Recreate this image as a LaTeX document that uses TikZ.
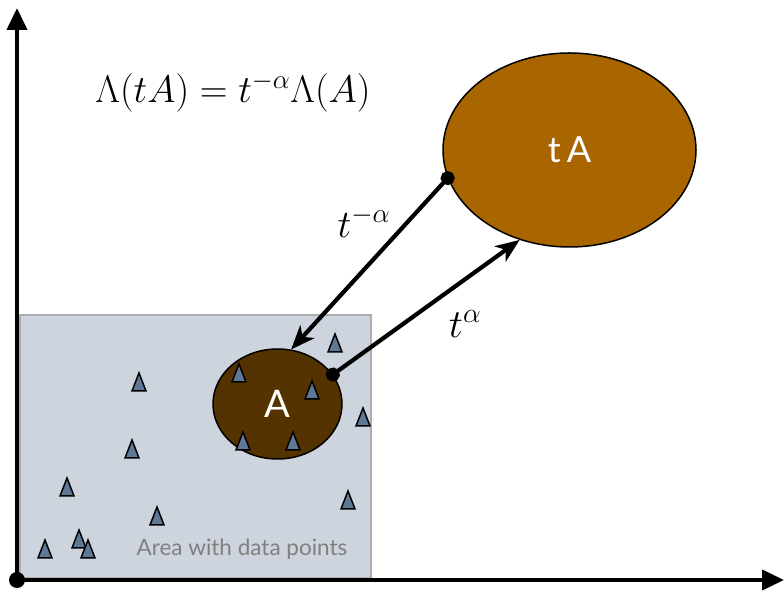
\RequirePackage{fix-cm}
\documentclass[tikz,border=0pt]{standalone}
\usepackage{fontspec}
\newfontfamily\gillfont{Lato}
\usetikzlibrary{arrows.meta,positioning,shapes.geometric}
\definecolor{AreaFill}  {RGB}{205,212,222}
\definecolor{AreaLine}  {RGB}{170,174,178}
\definecolor{AreaText}  {RGB}{128,128,128}
\definecolor{SetDark}   {RGB}{85,51,0}
\definecolor{SetLight}  {RGB}{168,101,0}
\definecolor{PointBlue} {RGB}{94,120,150}

\begin{document}
\begin{tikzpicture}[x=1pt,y=1pt,
    axisline/.style={line width=4pt,-{Triangle[length=22pt,width=20pt]}},
    setnode/.style={ellipse,draw=black,line width=1.5pt,inner sep=0pt,
                    text=white,font=\gillfont\fontsize{38}{44}\selectfont},
    scaling/.style={line width=4.2pt,shorten <=-7pt,
                    {Circle[length=14pt]}-{Stealth[length=24pt,width=19pt,inset=7pt]}},
    datapt/.style={draw=black,line width=1.5pt,fill=PointBlue,line join=miter}]
  \useasboundingbox (0,0) rectangle (784,591);
  % region holding the observations
  \node[draw=AreaLine,fill=AreaFill,line width=1.3pt,inner sep=0pt,
        minimum width=351pt,minimum height=263pt] (area) at (195.5,144.5) {};
  \node[text=AreaText,font=\gillfont\fontsize{22.5}{26}\selectfont]
    (arealabel) at (242,42) {Area with data points};
  % axes
  \coordinate (O) at (17,11);
  \coordinate (ytop) at (17,583);
  \coordinate (xend) at (784,11);
  \draw[axisline] (O) -- (ytop);
  \draw[axisline] (O) -- (xend);
  \fill (O) circle[radius=8pt];
  % the set and its scaled copy
  \node[setnode,fill=SetDark,minimum width=129pt,minimum height=110pt]
    (A) at (277.5,187) {A};
  \node[setnode,fill=SetLight,minimum width=253pt,minimum height=194pt,
        font=\gillfont\fontsize{36}{42}\selectfont]
    (tA) at (569.5,441) {t\,A};
  % data points
  \foreach \x/\y in {335/248,139/209,239/218,312/201,363/174,132/142,
                     243/150,293/150,67/104,348/91,157/75,45/42,79/52,88/42}
    \draw[datapt] ({\x-7},{\y-9}) -- (\x,{\y+9}) -- ({\x+7},{\y-9}) -- cycle;
  % scaling maps
  \draw[scaling] (tA.193) -- (A.76);
  \draw[scaling] (A.28) -- (tA.241);
  \node[font=\fontsize{39}{46}\selectfont] (tminus) at (364,369) {$t^{-\alpha}$};
  \node[font=\fontsize{40}{46}\selectfont] (tplus) at (465,267) {$t^{\alpha}$};
  \node[font=\fontsize{38.5}{46}\selectfont] (law) at (233,499)
    {$\Lambda(tA)=t^{-\alpha}\Lambda(A)$};
\end{tikzpicture}
\end{document}
